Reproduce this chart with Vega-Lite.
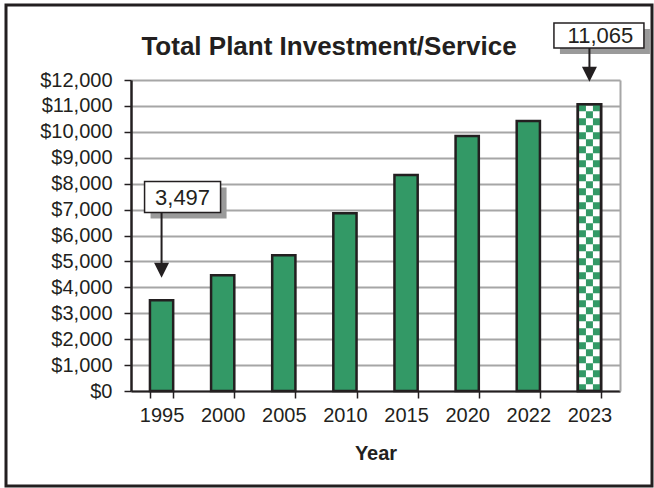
{
  "$schema": "https://vega.github.io/schema/vega-lite/v6.json",
  "width": 646,
  "height": 481,
  "autosize": {"type": "none"},
  "padding": {"left": 6, "top": 5, "right": 2, "bottom": 2},
  "background": "#ffffff",
  "title": {"text": "Total Plant Investment/Service", "fontSize": 26, "fontWeight": "bold", "font": "Liberation Sans", "color": "#231f20", "anchor": "middle", "frame": "group", "baseline": "alphabetic", "offset": -76},
  "config": {
    "view": {"stroke": "#231f20", "strokeWidth": 3},
    "font": "Liberation Sans",
    "axisLeft": {"domainColor": "#231f20", "domainWidth": 2.5, "tickColor": "#231f20", "tickSize": 7, "tickWidth": 1.5, "labelFontSize": 20, "labelColor": "#231f20", "labelPadding": 12, "labelFont": "Liberation Sans"},
    "axisRight": {"offset": -32, "labels": false, "ticks": false, "grid": false, "domainColor": "#a6a6a6", "domainWidth": 2},
    "axisBottom": {"offset": -95, "tickBand": "extent", "labelAngle": 0, "labelFontSize": 20, "labelColor": "#231f20", "labelPadding": 7, "labelFont": "Liberation Sans", "domainColor": "#231f20", "domainWidth": 2, "tickColor": "#231f20", "tickSize": 7, "tickWidth": 1.5, "grid": false, "titleFontSize": 20, "titleFontWeight": "bold", "titleColor": "#231f20", "titlePadding": 18, "titleFont": "Liberation Sans"}
  },
  "datasets": {
    "bars": [
      {"Year": "1995", "Value": 3497, "Kind": "actual"},
      {"Year": "2000", "Value": 4470, "Kind": "actual"},
      {"Year": "2005", "Value": 5240, "Kind": "actual"},
      {"Year": "2010", "Value": 6860, "Kind": "actual"},
      {"Year": "2015", "Value": 8330, "Kind": "actual"},
      {"Year": "2020", "Value": 9840, "Kind": "actual"},
      {"Year": "2022", "Value": 10420, "Kind": "actual"},
      {"Year": "2023", "Value": 11065, "Kind": "projected"}
    ]
  },
  "data": {"name": "bars"},
  "layer": [
    {
      "layer": [
        {
          "mark": {"type": "bar", "stroke": "#231f20", "strokeWidth": 2.5},
          "encoding": {
            "x": {"field": "Year", "type": "nominal", "sort": null, "title": "Year", "scale": {"domain": ["1995","2000","2005","2010","2015","2020","2022","2023"], "range": [125, 614], "paddingInner": 0.62, "paddingOuter": 0.31}},
            "y": {"field": "Value", "type": "quantitative", "title": null, "scale": {"domain": [0, 12000], "range": [386, 75], "nice": false, "zero": false}, "axis": {"orient": "left", "offset": -125, "grid": false, "values": [0,1000,2000,3000,4000,5000,6000,7000,8000,9000,10000,11000,12000], "format": "$,.0f"}},
            "fill": {"field": "Kind", "type": "nominal", "scale": {"domain": ["actual", "projected"], "range": ["#339966", "#ffffff"]}, "legend": null}
          }
        },
        {
          "transform": [{"filter": "datum.Year == '1995'"}],
          "mark": {"type": "point", "shape": "M-1,-0.408H1V0.408H-1Z", "size": 5776, "filled": true, "color": "#9a9a9a", "opacity": 1, "xOffset": 27, "yOffset": -97.4},
          "encoding": {"x": {"field": "Year", "type": "nominal", "sort": null, "title": "Year"}, "y": {"field": "Value", "type": "quantitative", "title": null}}
        },
        {
          "transform": [{"filter": "datum.Year == '1995'"}],
          "mark": {"type": "point", "shape": "M-1,-0.408H1V0.408H-1Z", "size": 5776, "filled": true, "fill": "#ffffff", "stroke": "#231f20", "strokeWidth": 1.5, "opacity": 1, "xOffset": 21, "yOffset": -103.4},
          "encoding": {"x": {"field": "Year", "type": "nominal", "sort": null, "title": "Year"}, "y": {"field": "Value", "type": "quantitative", "title": null}}
        },
        {
          "transform": [{"filter": "datum.Year == '1995'"}],
          "mark": {"type": "text", "fontSize": 22, "font": "Liberation Sans", "color": "#231f20", "align": "center", "baseline": "alphabetic", "xOffset": 21, "yOffset": -95.4},
          "encoding": {"x": {"field": "Year", "type": "nominal", "sort": null, "title": "Year"}, "y": {"field": "Value", "type": "quantitative", "title": null}, "text": {"field": "Value", "type": "quantitative", "format": ","}}
        },
        {
          "transform": [{"filter": "datum.Year == '1995'"}],
          "mark": {"type": "rule", "color": "#231f20", "strokeWidth": 2, "yOffset": -87.9, "y2Offset": -36},
          "encoding": {"x": {"field": "Year", "type": "nominal", "sort": null, "title": "Year"}, "y": {"field": "Value", "type": "quantitative", "title": null}, "y2": {"field": "Value"}}
        },
        {
          "transform": [{"filter": "datum.Year == '1995'"}],
          "mark": {"type": "point", "shape": "M-1,-1L1,-1L0,1Z", "size": 225, "filled": true, "color": "#231f20", "opacity": 1, "yOffset": -30},
          "encoding": {"x": {"field": "Year", "type": "nominal", "sort": null, "title": "Year"}, "y": {"field": "Value", "type": "quantitative", "title": null}}
        },
        {
          "transform": [{"filter": "datum.Year == '2023'"}],
          "mark": {"type": "point", "shape": "M-1,-0.278H1V0.278H-1Z", "size": 8100, "filled": true, "color": "#9a9a9a", "opacity": 1, "xOffset": 15.5, "yOffset": -62.7},
          "encoding": {"x": {"field": "Year", "type": "nominal", "sort": null, "title": "Year"}, "y": {"field": "Value", "type": "quantitative", "title": null}}
        },
        {
          "transform": [{"filter": "datum.Year == '2023'"}],
          "mark": {"type": "point", "shape": "M-1,-0.278H1V0.278H-1Z", "size": 8100, "filled": true, "fill": "#ffffff", "stroke": "#231f20", "strokeWidth": 1.5, "opacity": 1, "xOffset": 9.5, "yOffset": -68.7},
          "encoding": {"x": {"field": "Year", "type": "nominal", "sort": null, "title": "Year"}, "y": {"field": "Value", "type": "quantitative", "title": null}}
        },
        {
          "transform": [{"filter": "datum.Year == '2023'"}],
          "mark": {"type": "text", "fontSize": 22, "font": "Liberation Sans", "color": "#231f20", "align": "center", "baseline": "alphabetic", "xOffset": 11, "yOffset": -60.9},
          "encoding": {"x": {"field": "Year", "type": "nominal", "sort": null, "title": "Year"}, "y": {"field": "Value", "type": "quantitative", "title": null}, "text": {"field": "Value", "type": "quantitative", "format": ","}}
        },
        {
          "transform": [{"filter": "datum.Year == '2023'"}],
          "mark": {"type": "rule", "color": "#231f20", "strokeWidth": 2, "yOffset": -56.2, "y2Offset": -36},
          "encoding": {"x": {"field": "Year", "type": "nominal", "sort": null, "title": "Year"}, "y": {"field": "Value", "type": "quantitative", "title": null}, "y2": {"field": "Value"}}
        },
        {
          "transform": [{"filter": "datum.Year == '2023'"}],
          "mark": {"type": "point", "shape": "M-1,-1L1,-1L0,1Z", "size": 225, "filled": true, "color": "#231f20", "opacity": 1, "yOffset": -30},
          "encoding": {"x": {"field": "Year", "type": "nominal", "sort": null, "title": "Year"}, "y": {"field": "Value", "type": "quantitative", "title": null}}
        }
      ]
    },
    {
      "transform": [{"filter": "datum.Kind == 'projected'"}],
      "layer": [
        {
          "mark": {"type": "rule", "color": "#339966", "strokeWidth": 7, "strokeDash": [7, 7], "strokeCap": "butt", "xOffset": -7},
          "encoding": {
            "x": {"field": "Year", "type": "nominal", "sort": null, "title": "Year", "scale": {"domain": ["1995","2000","2005","2010","2015","2020","2022","2023"], "range": [125, 614], "paddingInner": 0.62, "paddingOuter": 0.31}},
            "y": {"field": "Value", "type": "quantitative", "title": null, "scale": {"domain": [0, 12000], "range": [386, 75], "nice": false, "zero": false}, "axis": {"orient": "left", "offset": 0, "grid": true, "gridColor": "#a6a6a6", "gridWidth": 2, "labels": false, "ticks": false, "domain": false, "values": [0,1000,2000,3000,4000,5000,6000,7000,8000,9000,10000,11000,12000]}},
            "y2": {"datum": 0}
          }
        },
        {
          "mark": {"type": "rule", "color": "#339966", "strokeWidth": 7, "strokeDash": [7, 7], "strokeDashOffset": 7, "strokeCap": "butt"},
          "encoding": {
            "x": {"field": "Year", "type": "nominal", "sort": null, "title": "Year"},
            "y": {"field": "Value", "type": "quantitative", "title": null},
            "y2": {"datum": 0}
          }
        },
        {
          "mark": {"type": "rule", "color": "#339966", "strokeWidth": 7, "strokeDash": [7, 7], "strokeCap": "butt", "xOffset": 7},
          "encoding": {
            "x": {"field": "Year", "type": "nominal", "sort": null, "title": "Year"},
            "y": {"field": "Value", "type": "quantitative", "title": null},
            "y2": {"datum": 0}
          }
        }
      ]
    },
    {
      "transform": [{"filter": "datum.Kind == 'projected'"}],
      "mark": {"type": "bar", "fill": "#ffffff", "fillOpacity": 0, "stroke": "#231f20", "strokeWidth": 2.5},
      "encoding": {
        "x": {"field": "Year", "type": "nominal", "sort": null, "title": "Year", "scale": {"domain": ["1995","2000","2005","2010","2015","2020","2022","2023"], "range": [125, 614], "paddingInner": 0.62, "paddingOuter": 0.31}},
        "y": {"field": "Value", "type": "quantitative", "title": null, "scale": {"domain": [0, 12000], "range": [386, 75], "nice": false, "zero": false}, "axis": {"orient": "right"}}
      }
    }
  ],
  "resolve": {"scale": {"y": "independent"}, "axis": {"y": "independent"}}
}
